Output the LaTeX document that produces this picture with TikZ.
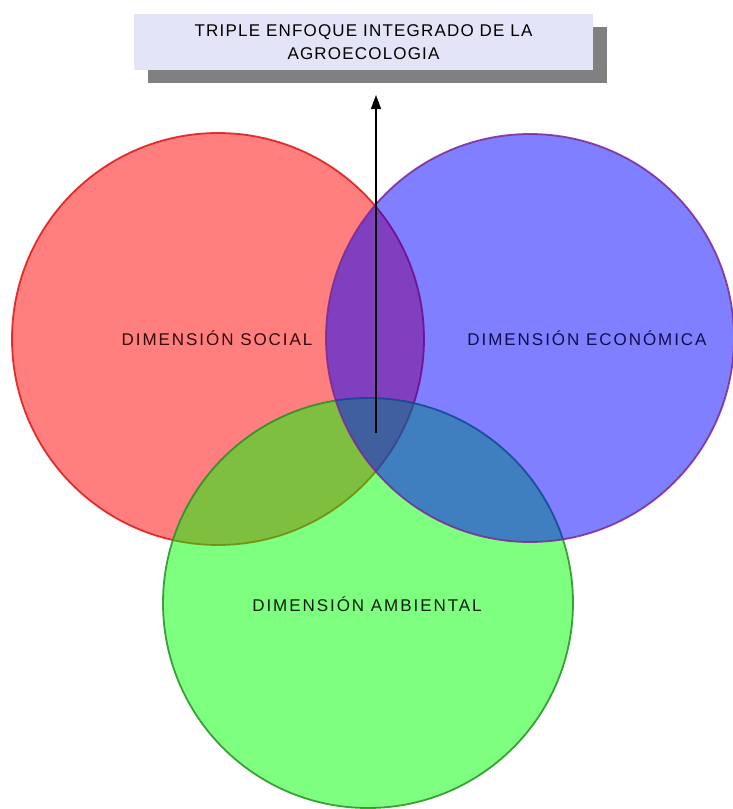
\documentclass[tikz,border=0pt]{standalone}
\usepackage{fontspec}
\setmainfont{Liberation Sans}
\newfontfamily\lblfont[LetterSpace=11.5]{Liberation Sans}
\newfontfamily\ttlfont[LetterSpace=7]{Liberation Sans}
\usetikzlibrary{shadows,arrows.meta}
\definecolor{redfill}{RGB}{255,0,0}
\definecolor{bluefill}{RGB}{0,0,255}
\definecolor{greenfill}{RGB}{0,255,0}
\definecolor{rededge}{RGB}{225,20,20}
\definecolor{blueedge}{RGB}{125,40,150}
\definecolor{greenedge}{RGB}{35,145,35}
\definecolor{boxfill}{RGB}{228,228,248}
\definecolor{shadowgray}{RGB}{128,128,128}
\definecolor{socialtxt}{RGB}{50,8,8}
\definecolor{econtxt}{RGB}{15,15,80}
\definecolor{ambtxt}{RGB}{10,30,10}
\tikzset{
  venn/.style={circle, inner sep=0pt, line width=1.8pt, fill opacity=0.5, draw opacity=0.85},
  lbl/.style={font=\lblfont\fontsize{17}{20}\selectfont, anchor=base, inner sep=0pt},
  titlebox/.style={rectangle, fill=boxfill, minimum width=459pt, minimum height=56pt,
    inner sep=0pt, align=center, font=\ttlfont\fontsize{17}{23.5}\selectfont,
    drop shadow={shadow xshift=14pt, shadow yshift=-13pt, opacity=1, fill=shadowgray}},
  arrowline/.style={line width=1.4pt, -{Triangle[length=14pt,width=10pt]}}
}
\begin{document}
\begin{tikzpicture}[x=1pt,y=-1pt]
\useasboundingbox[fill=white] (0,0) rectangle (732,809);
% circles
\node[venn, fill=redfill, draw=rededge, minimum size=412pt] (social) at (218,339) {};
\node[venn, fill=greenfill, draw=greenedge, minimum size=410pt] (ambiental) at (368,603) {};
\node[venn, fill=bluefill, draw=blueedge, minimum size=408pt] (economica) at (530,338) {};
% labels
\node[lbl, text=socialtxt] (lsocial) at (217,345) {DIMENSIÓN SOCIAL};
\node[lbl, text=econtxt] (lecon) at (587,345) {DIMENSIÓN ECONÓMICA};
\node[lbl, text=ambtxt] (lamb) at (367,611) {DIMENSIÓN AMBIENTAL};
% title
\node[titlebox] (title) at (363.5,42) {TRIPLE ENFOQUE INTEGRADO DE LA\\AGROECOLOGIA};
% arrow
\coordinate (a0) at (376,433);
\coordinate (a1) at (376,95);
\draw[arrowline] (a0) -- (a1);
\end{tikzpicture}
\end{document}
